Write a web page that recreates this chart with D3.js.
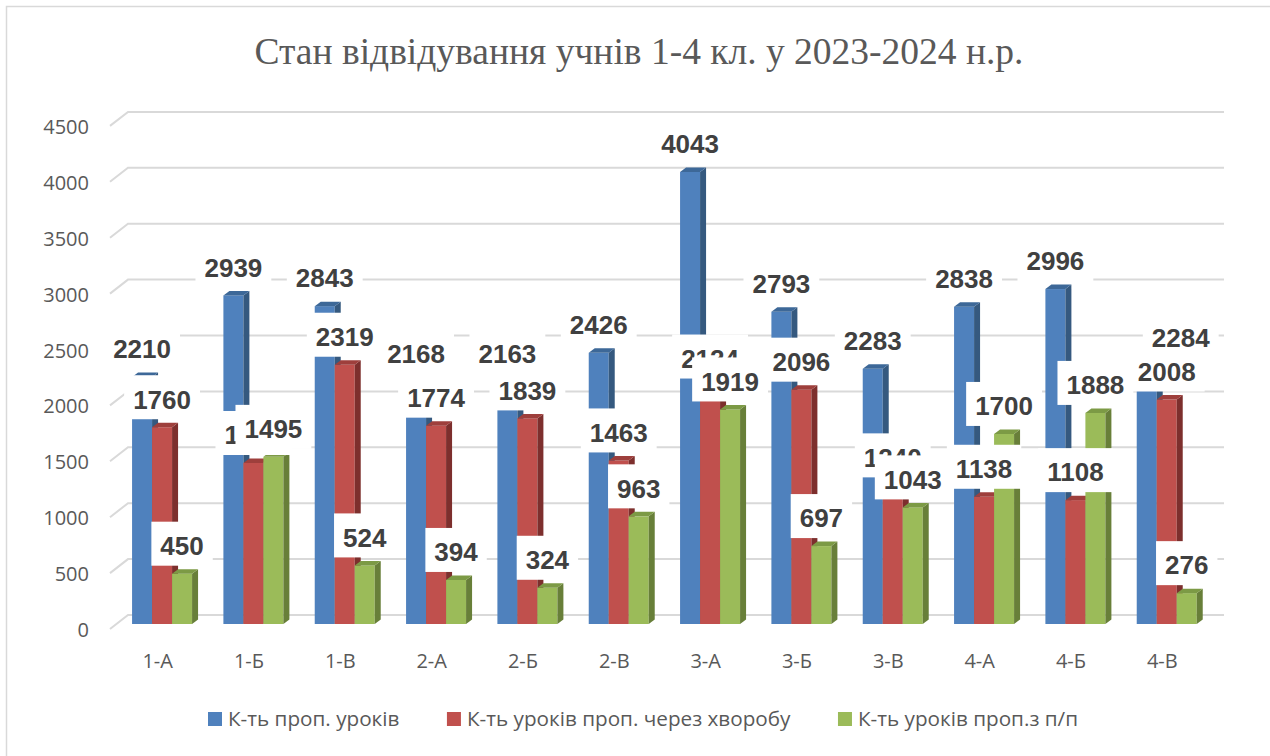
<!DOCTYPE html>
<html>
<head>
<meta charset="utf-8">
<script src="https://cdn.jsdelivr.net/npm/d3@7"></script>
<style>
  body { margin: 0; background: #fff; }
  svg { display: block; }
</style>
</head>
<body>
<div id="chart"></div>
<script>
// data
const classes = ["1-А", "1-Б", "1-В", "2-А", "2-Б", "2-В", "3-А", "3-Б", "3-В", "4-А", "4-Б", "4-В"];
const seriesNames = ["К-ть проп. уроків", "К-ть уроків проп. через хворобу", "К-ть уроків проп.з п/п"];
const missedTotal = [2210, 2939, 2843, 2168, 2163, 2426, 4043, 2793, 2283, 2838, 2996, 2284];
const missedIllness = [1760, 1440, 2319, 1774, 1839, 1463, 2124, 2096, 1240, 1138, 1108, 2008];
const missedOther = [450, 1495, 524, 394, 324, 963, 1919, 697, 1043, 1700, 1888, 276];
const yTicks = [0, 500, 1000, 1500, 2000, 2500, 3000, 3500, 4000, 4500];

const allSeries = [missedTotal, missedIllness, missedOther];

// colours: front, side, top
const colors = [
  { front: "#4f81bd", side: "#35597f", top: "#3d6898" },
  { front: "#c0504d", side: "#7d2f2d", top: "#9e3f3c" },
  { front: "#9bbb59", side: "#687f39", top: "#7c9a45" }
];

// one label was dragged aside in the original (series index, class index -> shift in px)
const labelNudge = { "0-11": [34, -3] };

const width = 1270, height = 756;
const svg = d3.select("#chart").append("svg")
  .attr("width", width)
  .attr("height", height);

// outer border of the chart area
svg.append("rect")
  .attr("x", 6.5).attr("y", 6.5)
  .attr("width", 1300).attr("height", 800)
  .attr("fill", "none")
  .attr("stroke", "#d9d9d9")
  .attr("stroke-width", 1.5);

// 3d offsets
const wallDx = 18, wallDy = -14;   // front edge -> back wall
const planeDx = 6.4, planeDy = -5; // front edge -> bars front
const barDx = 6, barDy = -4.5;     // bar depth

const x = d3.scaleBand().domain(classes).range([110, 1206]);
const xs = d3.scaleBand().domain([0, 1, 2]).range([0, 60]);
const y = d3.scaleLinear().domain([0, 4500]).range([629, 125.9]);

// title
svg.append("text")
  .attr("x", 639).attr("y", 64)
  .attr("text-anchor", "middle")
  .attr("font-family", "'Liberation Serif', 'Times New Roman', serif")
  .attr("font-size", 37.5)
  .attr("fill", "#595959")
  .text("Стан відвідування учнів 1-4 кл. у 2023-2024 н.р.");

// gridlines on the side and back wall
const grid = svg.append("g").attr("stroke", "#d9d9d9").attr("stroke-width", 2).attr("fill", "none");
yTicks.forEach(t => {
  const x0 = x.range()[0], x1 = x.range()[1];
  grid.append("path")
    .attr("d", `M${x0},${y(t)} L${x0 + wallDx},${y(t) + wallDy} L${x1 + wallDx},${y(t) + wallDy}`);
});

// y tick labels
svg.append("g").selectAll("text")
  .data(yTicks)
  .join("text")
  .attr("x", 89)
  .attr("y", d => y(d) + 8)
  .attr("text-anchor", "end")
  .attr("font-family", "'Open Sans', sans-serif")
  .attr("font-size", 20)
  .attr("fill", "#595959")
  .text(d => d);

// category labels
svg.append("g").selectAll("text")
  .data(classes)
  .join("text")
  .attr("x", d => x(d) + x.bandwidth() / 2 + 2)
  .attr("y", 668)
  .attr("text-anchor", "middle")
  .attr("font-family", "'Open Sans', sans-serif")
  .attr("font-size", 20)
  .attr("fill", "#595959")
  .text(d => d);

// bar geometry
const groupOffset = (x.bandwidth() - 60) / 2;
const barLeft = (c, i) => x(c) + planeDx + groupOffset + xs(i);
const barTop = v => y(v) + planeDy;
const barBottom = y(0) + planeDy;
const bw = xs.bandwidth();

// bars, drawn group by group, left to right
const bars = svg.append("g");
classes.forEach((c, ci) => {
  allSeries.forEach((vals, si) => {
    const v = vals[ci];
    const x0 = barLeft(c, si), yt = barTop(v);
    const col = colors[si];
    bars.append("rect")
      .attr("x", x0).attr("y", yt)
      .attr("width", bw).attr("height", barBottom - yt)
      .attr("fill", col.front);
    bars.append("polygon")
      .attr("points", [[x0 + bw, yt], [x0 + bw + barDx, yt + barDy], [x0 + bw + barDx, barBottom + barDy], [x0 + bw, barBottom]].join(" "))
      .attr("fill", col.side);
    bars.append("polygon")
      .attr("points", [[x0, yt], [x0 + barDx, yt + barDy], [x0 + bw + barDx, yt + barDy], [x0 + bw, yt]].join(" "))
      .attr("fill", col.top);
  });
});

// data labels with white boxes, series after series
const labels = svg.append("g");
allSeries.forEach((vals, si) => {
  classes.forEach((c, ci) => {
    const v = vals[ci];
    const nudge = labelNudge[si + "-" + ci] || [0, 0];
    const cx = barLeft(c, si) + bw / 2 + nudge[0];
    const cy = barTop(v) - 28 + nudge[1];
    const g = labels.append("g");
    const rect = g.append("rect").attr("fill", "#fff");
    const txt = g.append("text")
      .attr("x", cx).attr("y", cy + 9.3)
      .attr("text-anchor", "middle")
      .attr("font-family", "'Liberation Sans', Arial, sans-serif")
      .attr("font-weight", "bold")
      .attr("font-size", 26)
      .attr("fill", "#404040")
      .text(v);
    const tw = txt.node().getComputedTextLength();
    rect.attr("x", cx - tw / 2 - 9).attr("y", cy - 24)
      .attr("width", tw + 18).attr("height", 44);
  });
});

// legend, spread between 208 and 1078 like the original
const legend = svg.append("g");
const items = seriesNames.map((name, i) => {
  const g = legend.append("g");
  g.append("rect").attr("x", 0).attr("y", 712).attr("width", 14).attr("height", 14).attr("fill", colors[i].front);
  const t = g.append("text")
    .attr("x", 20).attr("y", 726)
    .attr("font-family", "'Open Sans', sans-serif")
    .attr("font-size", 20.7)
    .attr("fill", "#595959")
    .text(name);
  return { g, w: 20 + t.node().getComputedTextLength() };
});
const legendGap = (1078 - 208 - d3.sum(items, d => d.w)) / (items.length - 1);
let lx = 208;
items.forEach(it => {
  it.g.attr("transform", `translate(${lx},0)`);
  lx += it.w + legendGap;
});
</script>
</body>
</html>
